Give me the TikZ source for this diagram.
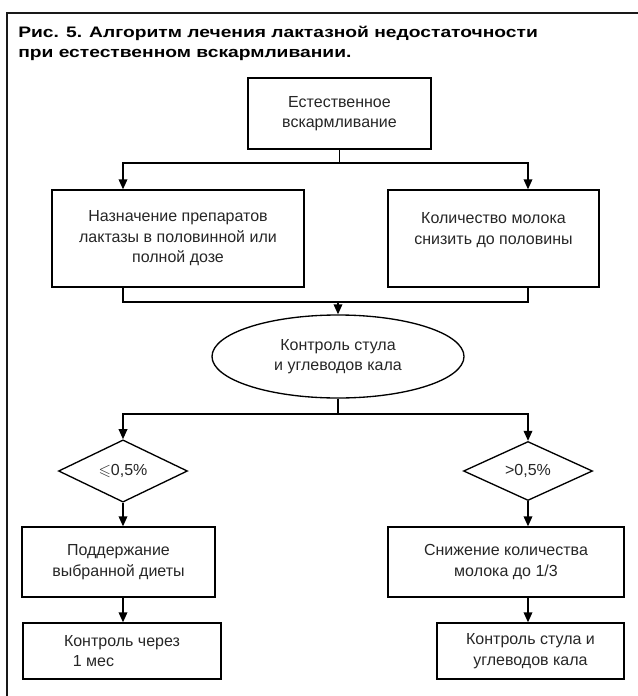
\documentclass[tikz,border=0pt]{standalone}
\usepackage{fontspec}
\usepackage{amssymb}
\setmainfont{Liberation Sans}
\usetikzlibrary{shapes.geometric,arrows.meta}
\begin{document}
\begin{tikzpicture}[x=0.75pt,y=-0.75pt,
  box/.style={draw=black,line width=1pt,rectangle,inner sep=0pt,align=center,text=black!85,
    font=\fontsize{12}{15.4}\selectfont},
  ell/.style={draw=black,line width=1pt,ellipse,inner sep=0pt,align=center,text=black!85,
    font=\fontsize{12}{15.4}\selectfont},
  dia/.style={draw=black,line width=1pt,diamond,inner sep=0pt,text=black!85,
    font=\fontsize{12}{15.4}\selectfont},
  conn/.style={line width=1pt,draw=black},
  arr/.style={conn,-{Triangle[length=7.5pt,width=6.5pt]}},
  ttl/.style={anchor=base west,inner sep=0pt,font=\fontsize{11.4}{14}\selectfont\bfseries}
]
\useasboundingbox (0,0) rectangle (638,696);
% frame
\draw[line width=2pt,draw=black!90] (7,696) -- (7,13) -- (638,13);
% title
\node[ttl] (t1) at (18,37) {\scalebox{1.265}[1]{Рис. 5. Алгоритм лечения лактазной недостаточности}};
\node[ttl] (t2) at (18,57) {\scalebox{1.265}[1]{при естественном вскармливании.}};
% nodes
\node[box,minimum width=137.25pt,minimum height=53.25pt] (top) at (339.5,113.5) {Естественное\\вскармливание};
\node[box,minimum width=189pt,minimum height=72.75pt] (L1) at (178,238.5) {Назначение препаратов\\лактазы в половинной или\\полной дозе};
\node[box,minimum width=158.25pt,minimum height=72.75pt] (R1) at (493.5,238.5) {Количество молока\\снизить до половины\\\mbox{}};
\node[ell,minimum width=189pt,minimum height=62.25pt] (E) at (338,356.5) {Контроль стула\\и углеводов кала};
\node[dia,minimum width=96.75pt,minimum height=40.5pt] (Dl) at (123,471) {$\leqslant$0,5\%};
\node[dia,minimum width=96.75pt,minimum height=40.5pt] (Dr) at (528,471) {>0,5\%};
\node[box,minimum width=144.75pt,minimum height=52.5pt] (L2) at (118.5,562) {Поддержание\\выбранной диеты};
\node[box,minimum width=177pt,minimum height=52.5pt] (R2) at (506,562) {Снижение количества\\молока до 1/3};
\node[box,minimum width=148.5pt,minimum height=42pt,align=left] (L3) at (122,651) {Контроль через\\\ \ 1 мес};
\node[box,minimum width=140.25pt,minimum height=42pt] (R3) at (530.5,651) {Контроль стула и\\углеводов кала};
% helper coordinates
\coordinate (cl) at (123,0);
\coordinate (cr) at (528,0);
\coordinate (r1) at (0,163);
\coordinate (r2) at (0,302);
\coordinate (r3) at (0,414);
% connectors
\draw[arr] (top.south) |- (cl |- r1) -- (cl |- L1.north);
\draw[arr] (top.south) |- (cr |- r1) -- (cr |- R1.north);
\draw[conn] (cl |- L1.south) -- (cl |- r2) -- (cr |- r2) -- (cr |- R1.south);
\draw[arr] (E.north |- r2) -- (E.north);
\draw[arr] (E.south) |- (cl |- r3) -- (Dl.north);
\draw[arr] (E.south) |- (cr |- r3) -- (Dr.north);
\draw[arr] (Dl.south) -- (Dl.south |- L2.north);
\draw[arr] (Dr.south) -- (Dr.south |- R2.north);
\draw[arr] (cl |- L2.south) -- (cl |- L3.north);
\draw[arr] (cr |- R2.south) -- (cr |- R3.north);
\end{tikzpicture}
\end{document}
